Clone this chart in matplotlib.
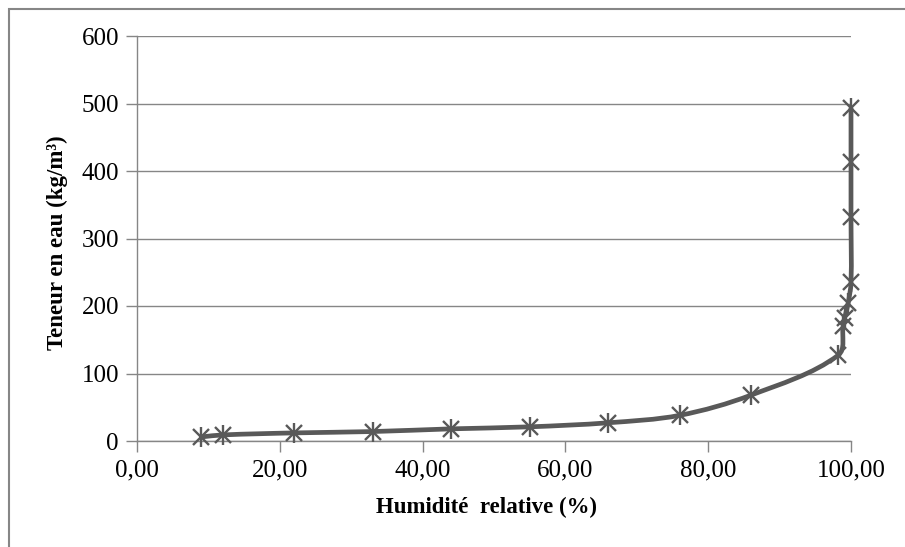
import numpy as np
import matplotlib
matplotlib.use('Agg')
import matplotlib.pyplot as plt
from matplotlib.path import Path
from matplotlib.patches import PathPatch, Rectangle
from matplotlib.ticker import FuncFormatter

# Données
humidite = [9, 12, 22, 33, 44, 55, 66, 76, 86, 98.2, 98.9, 99.1, 99.6, 100, 100, 100, 100]
teneur = [6, 9, 12, 14, 18, 21, 27, 38, 68, 127, 170, 182, 204, 235, 332, 413, 493]
xticks = [0, 20, 40, 60, 80, 100]
yticks = [0, 100, 200, 300, 400, 500, 600]

plt.rcParams['font.family'] = ['Liberation Serif', 'DejaVu Serif']

fig = plt.figure(figsize=(9.05, 5.47), dpi=100)
ax = fig.add_axes([137 / 905, 1 - 441 / 547, 714 / 905, 405 / 547])
ax.set_xlim(0, 100)
ax.set_ylim(0, 600)


# courbe lissée (Bezier, tangentes de Catmull-Rom, poignées proportionnelles au segment)
def courbe_lissee(ax, xs, ys, **kw):
    disp = ax.transData.transform(np.column_stack([xs, ys]))
    n = len(disp)
    tang = []
    for i in range(n):
        d = disp[min(i + 1, n - 1)] - disp[max(i - 1, 0)]
        tang.append(d / (np.hypot(*d) + 1e-9))
    verts = [disp[0]]
    codes = [Path.MOVETO]
    for i in range(n - 1):
        p1, p2 = disp[i], disp[i + 1]
        L = np.hypot(*(p2 - p1)) / 3
        verts += [p1 + tang[i] * L, p2 - tang[i + 1] * L, p2]
        codes += [Path.CURVE4] * 3
    patch = PathPatch(Path(verts, codes), transform=None, fill=False, clip_on=False, **kw)
    ax.add_artist(patch)


courbe_lissee(ax, humidite, teneur, edgecolor='#595959', linewidth=3.4,
              capstyle='round', joinstyle='round', zorder=3)
ax.plot(humidite, teneur, linestyle='none', marker='x', markersize=11,
        markeredgewidth=1.7, color='#595959', zorder=4, clip_on=False)
ax.plot(humidite, teneur, linestyle='none', marker='|', markersize=14,
        markeredgewidth=1.7, color='#595959', zorder=4, clip_on=False)

ax.set_xticks(xticks)
ax.set_yticks(yticks)
ax.xaxis.set_major_formatter(FuncFormatter(lambda v, p: f'{v:.2f}'.replace('.', ',')))
ax.tick_params(axis='both', direction='out', length=8, width=1, color='#868686',
               labelsize=18, pad=5, labelcolor='black')
ax.grid(axis='y', color='#868686', linewidth=1)
ax.set_axisbelow(True)
for s in ['top', 'right']:
    ax.spines[s].set_visible(False)
for s in ['left', 'bottom']:
    ax.spines[s].set_color('#868686')
    ax.spines[s].set_linewidth(1)

ax.set_xlabel('Humidité  relative (%)', fontsize=16.5, fontweight='bold')
ax.set_ylabel('Teneur en eau (kg/m³)', fontsize=16.5, fontweight='bold')
ax.xaxis.set_label_coords(0.49, -0.138)
ax.yaxis.set_label_coords(-0.097, 0.489)

# cadre extérieur
fig.patches.append(Rectangle((9 / 905, -0.1), 1.2, 1 - 9 / 547 + 0.1,
                             transform=fig.transFigure, fill=False,
                             edgecolor='#868686', linewidth=1.5))

fig.savefig('out.png', dpi=100)
